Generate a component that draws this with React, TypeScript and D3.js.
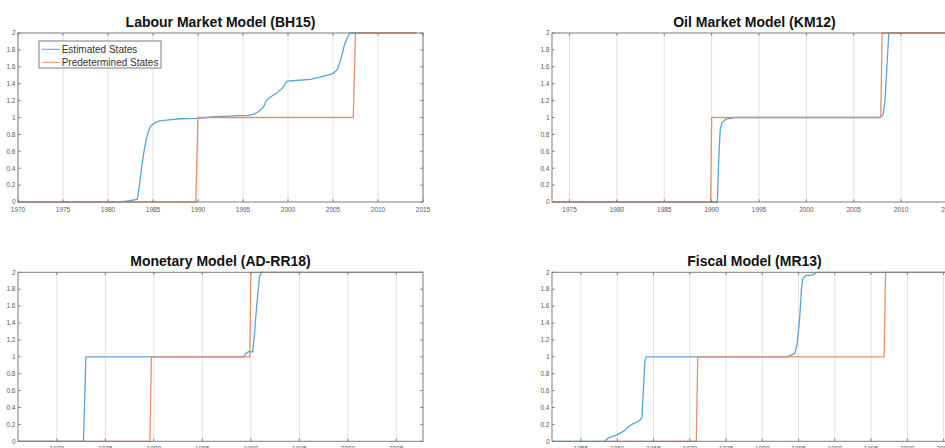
import React from 'react';
import * as d3 from 'd3';

// [year, state] pairs
const labourEstimated = [
  [1970, 0], [1981, 0], [1982, 0.01], [1983.25, 0.03], [1983.5, 0.2], [1983.75, 0.42],
  [1984, 0.6], [1984.25, 0.74], [1984.5, 0.84], [1984.75, 0.9], [1985.25, 0.94],
  [1985.75, 0.96], [1986.5, 0.97], [1988, 0.985], [1990, 0.99], [1991, 1.0], [1992, 1.01],
  [1994, 1.02], [1995.5, 1.025], [1996.25, 1.04], [1996.75, 1.07], [1997.25, 1.12],
  [1997.6, 1.2], [1998, 1.24], [1998.75, 1.29], [1999.4, 1.35], [1999.9, 1.43],
  [2000.5, 1.435], [2002.5, 1.45], [2004, 1.49], [2005, 1.52], [2005.5, 1.57],
  [2005.9, 1.7], [2006.25, 1.85], [2006.6, 1.95], [2006.9, 2.0], [2014.25, 2.0],
];
const labourPredetermined = [
  [1970, 0], [1989.75, 0], [1990, 1], [2007.25, 1], [2007.5, 2], [2014.25, 2],
];

const oilEstimated = [
  [1973.25, 0], [1990.6, 0], [1990.75, 0.5], [1990.9, 0.85], [1991.1, 0.94],
  [1991.5, 0.98], [1992.5, 1.0], [2007.75, 1.0], [2008.1, 1.03], [2008.3, 1.2],
  [2008.5, 1.6], [2008.7, 2.0], [2015.75, 2.0],
];
const oilPredetermined = [
  [1973.25, 0], [1989.9, 0], [1990, 1], [2007.85, 1], [2008, 2], [2015.75, 2],
];

const monetaryEstimated = [
  [1966, 0], [1972.75, 0], [1973, 1], [1989.25, 1], [1989.6, 1.05], [1989.8, 1.06],
  [1990.2, 1.06], [1990.4, 1.3], [1990.6, 1.6], [1990.9, 1.95], [1991.1, 2.0], [2007.75, 2],
];
const monetaryPredetermined = [
  [1966, 0], [1979.6, 0], [1979.75, 1], [1989.9, 1], [1990, 2], [2007.75, 2],
];

const fiscalEstimated = [
  [1951, 0], [1958.25, 0], [1958.8, 0.04], [1960, 0.08], [1960.9, 0.12], [1961.5, 0.17],
  [1962, 0.2], [1963, 0.24], [1963.4, 0.28], [1963.6, 0.6], [1963.8, 0.95], [1964, 1.0],
  [1983.4, 1.0], [1984, 1.02], [1984.5, 1.04], [1984.8, 1.15], [1985.15, 1.45],
  [1985.4, 1.8], [1985.6, 1.93], [1986, 1.96], [1987, 1.97], [1987.5, 2.0], [2006.75, 2],
];
const fiscalPredetermined = [
  [1958.25, 0], [1970.9, 0], [1971.1, 1], [1996.8, 1], [1997, 2], [2006.75, 2],
];

const yTicks = [0, 0.2, 0.4, 0.6, 0.8, 1, 1.2, 1.4, 1.6, 1.8, 2];
const labourYears = [1970, 1975, 1980, 1985, 1990, 1995, 2000, 2005, 2010, 2015];
const oilYears = [1975, 1980, 1985, 1990, 1995, 2000, 2005, 2010, 2015];
const monetaryYears = [1970, 1975, 1980, 1985, 1990, 1995, 2000, 2005];
const fiscalYears = [1955, 1960, 1965, 1970, 1975, 1980, 1985, 1990, 1995, 2000, 2005];

const seriesNames = ['Estimated States', 'Predetermined States'];
const BLUE = '#58a5d5';
const ORANGE = '#e2926a';
const FONT = 'Liberation Sans, Arial, sans-serif';

const W = 945;
const H = 448;
const AX_W = 405;
const AX_H = 169;

type Pt = number[];

function Panel({ title, left, top, domain, years, estimated, predetermined, legend, id }:
  { title: string; left: number; top: number; domain: number[]; years: number[];
    estimated: Pt[]; predetermined: Pt[]; legend?: boolean; id: string }) {
  const x = d3.scaleLinear().domain(domain).range([0, AX_W]);
  const y = d3.scaleLinear().domain([0, 2]).range([AX_H, 0]);
  const line = d3.line<Pt>().x(d => x(d[0])).y(d => y(d[1]));
  const tick = 2.7;

  return (
    <g transform={`translate(${left},${top})`}>
      <defs>
        <clipPath id={id}>
          <rect x={0} y={-1} width={AX_W} height={AX_H + 2} />
        </clipPath>
      </defs>
      <rect x={0} y={0} width={AX_W} height={AX_H} fill="#fff" />
      {/* vertical grid */}
      {years.map(yr => (
        <line key={'g' + yr} x1={x(yr)} x2={x(yr)} y1={0} y2={AX_H} stroke="#e3e3e3" strokeWidth={1} />
      ))}
      <g clipPath={`url(#${id})`}>
        <path d={line(estimated) || ''} fill="none" stroke={BLUE} strokeWidth={1.3} />
        <path d={line(predetermined) || ''} fill="none" stroke={ORANGE} strokeWidth={1.3} />
      </g>
      {/* box */}
      <rect x={0} y={0} width={AX_W} height={AX_H} fill="none" stroke="#7d7d7d" strokeWidth={1} />
      {/* x ticks */}
      {years.map(yr => (
        <g key={'x' + yr}>
          <line x1={x(yr)} x2={x(yr)} y1={AX_H} y2={AX_H - tick} stroke="#7d7d7d" />
          <line x1={x(yr)} x2={x(yr)} y1={0} y2={tick} stroke="#7d7d7d" />
          <text x={x(yr)} y={AX_H + 10} textAnchor="middle" fontSize={6.5} fill="#5a5a5a" fontFamily={FONT}>{yr}</text>
        </g>
      ))}
      {/* y ticks */}
      {yTicks.map(v => (
        <g key={'y' + v}>
          <line x1={0} x2={tick} y1={y(v)} y2={y(v)} stroke="#7d7d7d" />
          <line x1={AX_W} x2={AX_W - tick} y1={y(v)} y2={y(v)} stroke="#7d7d7d" />
          <text x={-2.5} y={y(v) + 2.3} textAnchor="end" fontSize={6.5} fill="#5a5a5a" fontFamily={FONT}>{String(v)}</text>
        </g>
      ))}
      <text x={AX_W / 2} y={-6.5} textAnchor="middle" fontSize={14} fontWeight="bold" fill="#111" fontFamily={FONT}>{title}</text>
      {legend && (
        <g transform="translate(21,8)">
          <rect x={0} y={0} width={122} height={27} fill="#fff" stroke="#7d7d7d" strokeWidth={1} />
          {seriesNames.map((name, i) => (
            <g key={name} transform={`translate(0,${8.3 + i * 13})`}>
              <line x1={2.7} x2={21} y1={0} y2={0} stroke={i === 0 ? BLUE : ORANGE} strokeWidth={1} />
              <text x={22.7} y={3.6} fontSize={10} fill="#333" fontFamily={FONT}>{name}</text>
            </g>
          ))}
        </g>
      )}
    </g>
  );
}

export default function App() {
  return (
    <svg width={W} height={H} style={{ position: 'absolute', left: 0, top: 0, background: '#fff' }}>
      <rect width={W} height={H} fill="#fff" />
      <Panel id="c1" title="Labour Market Model (BH15)" left={18} top={33} domain={[1970, 2015]}
        years={labourYears} estimated={labourEstimated} predetermined={labourPredetermined} legend />
      <Panel id="c2" title="Oil Market Model (KM12)" left={552} top={33} domain={[1973.15, 2015.9]}
        years={oilYears} estimated={oilEstimated} predetermined={oilPredetermined} />
      <Panel id="c3" title="Monetary Model (AD-RR18)" left={18} top={272.3} domain={[1966, 2007.75]}
        years={monetaryYears} estimated={monetaryEstimated} predetermined={monetaryPredetermined} />
      <Panel id="c4" title="Fiscal Model (MR13)" left={552} top={272.3} domain={[1951, 2006.85]}
        years={fiscalYears} estimated={fiscalEstimated} predetermined={fiscalPredetermined} />
    </svg>
  );
}
